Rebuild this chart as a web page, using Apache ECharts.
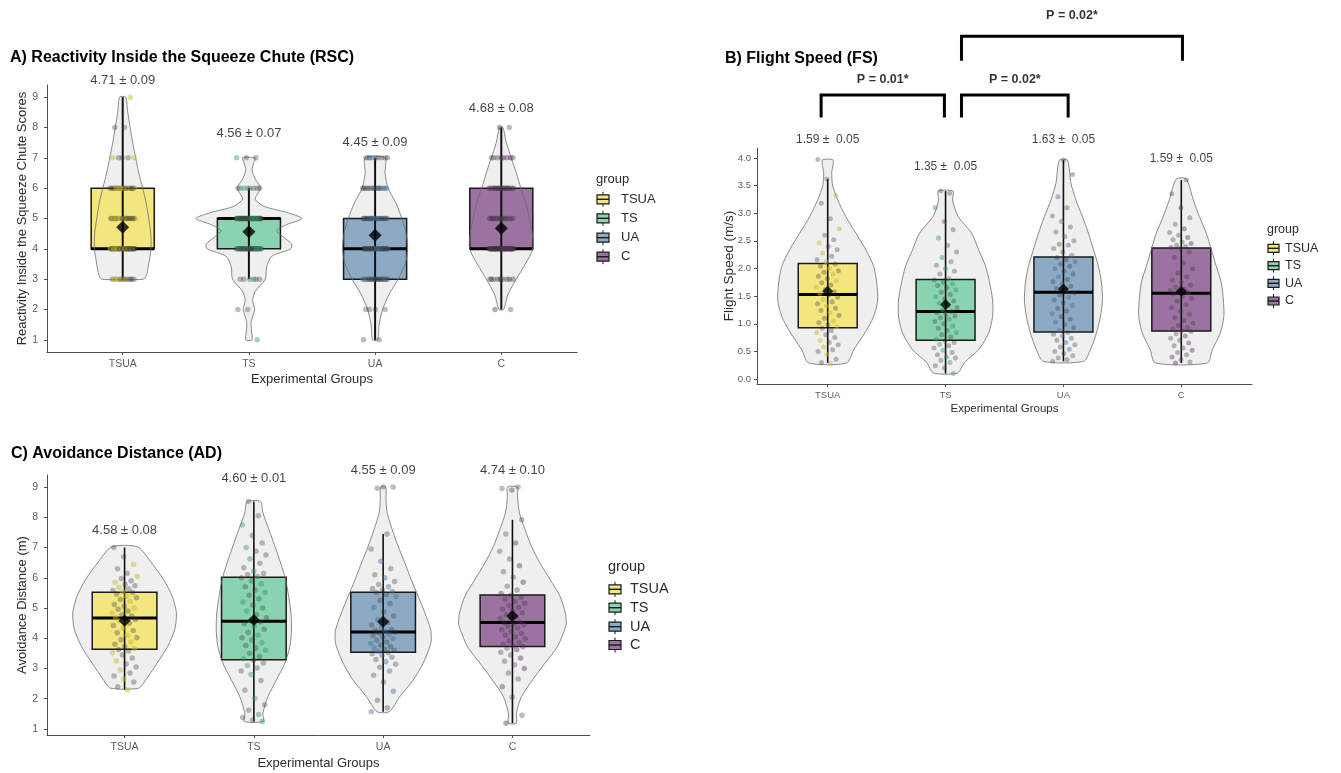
<!DOCTYPE html>
<html>
<head>
<meta charset="utf-8">
<script src="https://cdn.jsdelivr.net/npm/echarts@6/dist/echarts.min.js"></script>
<style>
  html, body { margin: 0; padding: 0; background: #fff; }
  #chart { width: 1341px; height: 773px; }
</style>
</head>
<body>
<div id="chart"></div>
<script>
// ---------- data ----------
const groups = ['TSUA', 'TS', 'UA', 'C'];

// A) Reactivity inside the squeeze chute: animals per score (scores 1..9)
const rscScores = [1, 2, 3, 4, 5, 6, 7, 8, 9];
const rscCountsTSUA = [0, 0, 12, 42, 20, 18, 5, 2, 1];
const rscCountsTS   = [1, 2, 6, 34, 46, 8, 3, 0, 0];
const rscCountsUA   = [2, 4, 20, 28, 22, 15, 9, 0, 0];
const rscCountsC    = [0, 2, 10, 45, 15, 18, 8, 2, 0];
const rscMean = [4.71, 4.56, 4.45, 4.68];
const rscSE   = [0.09, 0.07, 0.09, 0.08];
// [lower whisker, Q1, median, Q3, upper whisker]
const rscBox = [[3, 4, 4, 6, 9], [3, 4, 5, 5, 6], [1, 3, 4, 5, 7], [2, 4, 4, 6, 8]];
// violin density profiles: [score, scaled density]
const rscDensityTSUA = [[3,0.166],[3.15,0.19],[3.5,0.206],[4,0.224],[4.5,0.222],[5,0.206],[5.5,0.186],[6,0.158],[6.5,0.127],[7,0.103],[7.5,0.079],[8,0.059],[8.5,0.04],[9,0.024]];
const rscDensityTS   = [[1,0.025],[1.3,0.02],[1.6,0.018],[2,0.045],[2.3,0.03],[2.6,0.05],[3,0.13],[3.4,0.14],[3.75,0.18],[4,0.33],[4.15,0.34],[4.4,0.27],[4.6,0.22],[4.8,0.3],[5,0.42],[5.2,0.3],[5.4,0.12],[5.65,0.05],[6,0.093],[6.3,0.05],[6.6,0.025],[6.85,0.04],[7,0.05]];
const rscDensityUA   = [[1,0.02],[1.5,0.032],[2,0.059],[2.5,0.111],[3,0.182],[3.5,0.238],[4,0.258],[4.5,0.246],[5,0.212],[5.5,0.166],[6,0.103],[6.5,0.079],[7,0.079]];
const rscDensityC    = [[2,0.018],[2.5,0.053],[3,0.119],[3.5,0.19],[4,0.251],[4.5,0.246],[5,0.222],[5.5,0.196],[6,0.155],[6.5,0.119],[7,0.079],[7.5,0.04],[8,0.013]];

// B) Flight speed (m/s)
const fsTSUA = [0.28,0.30,0.36,0.45,0.50,0.53,0.58,0.62,0.66,0.70,0.75,0.80,0.84,0.88,0.92,
  0.95,0.98,1.02,1.05,1.10,1.15,1.20,1.24,1.28,1.32,1.36,1.40,1.44,1.48,1.52,
  1.55,1.58,1.62,1.66,1.70,1.74,1.78,1.82,1.86,1.90,1.93,1.96,2.00,2.04,2.08,
  2.12,2.16,2.22,2.28,2.34,2.40,2.46,2.52,2.60,2.72,2.90,3.18,3.32,3.62,3.97];
const fsTS = [0.10,0.20,0.24,0.30,0.34,0.38,0.40,0.44,0.48,0.52,0.56,0.60,0.63,0.66,0.69,
  0.72,0.76,0.80,0.84,0.88,0.92,0.96,1.00,1.04,1.08,1.11,1.14,1.17,1.20,1.22,
  1.25,1.29,1.33,1.37,1.41,1.45,1.49,1.53,1.57,1.61,1.65,1.69,1.72,1.75,1.79,
  1.82,1.90,1.95,2.00,2.06,2.12,2.20,2.30,2.42,2.55,2.70,2.85,3.10,3.36,3.40];
const fsUA = [0.32,0.35,0.38,0.42,0.46,0.50,0.54,0.58,0.62,0.66,0.70,0.74,0.78,0.81,0.84,
  0.88,0.93,0.98,1.03,1.08,1.13,1.18,1.23,1.28,1.33,1.38,1.43,1.48,1.52,1.56,
  1.60,1.64,1.68,1.72,1.76,1.80,1.85,1.90,1.95,2.00,2.04,2.08,2.12,2.16,2.20,
  2.24,2.30,2.36,2.42,2.44,2.50,2.58,2.66,2.75,2.85,2.95,3.10,3.30,3.70,3.96];
const fsC = [0.29,0.31,0.35,0.40,0.44,0.48,0.52,0.56,0.60,0.65,0.70,0.74,0.78,0.82,0.86,
  0.88,0.90,0.93,0.97,1.01,1.06,1.11,1.17,1.23,1.29,1.35,1.41,1.46,1.50,1.54,
  1.56,1.58,1.60,1.63,1.66,1.70,1.74,1.79,1.85,1.92,2.00,2.10,2.20,2.30,2.36,
  2.38,2.40,2.42,2.45,2.48,2.52,2.56,2.60,2.65,2.72,2.80,2.92,3.10,3.35,3.60];
const fsMean = [1.59, 1.35, 1.63, 1.59];
const fsSE   = [0.05, 0.05, 0.05, 0.05];
const fsBox = [[0.29,0.93,1.53,2.09,3.62],[0.10,0.70,1.22,1.80,3.40],[0.32,0.85,1.57,2.21,3.96],[0.29,0.87,1.55,2.37,3.60]];
const fsDensityTSUA = [[0.29,0.161],[0.53,0.221],[0.83,0.314],[1.13,0.39],[1.43,0.424],[1.74,0.416],[2.04,0.39],[2.34,0.323],[2.64,0.238],[2.94,0.153],[3.24,0.085],[3.5,0.042],[3.73,0.034],[3.9,0.047],[3.97,0.042]];
const fsDensityTS   = [[0.11,0.102],[0.3,0.161],[0.53,0.28],[0.83,0.365],[1.13,0.399],[1.43,0.399],[1.74,0.374],[2.04,0.34],[2.34,0.28],[2.64,0.221],[2.94,0.106],[3.24,0.059],[3.4,0.064]];
const fsDensityUA   = [[0.32,0.17],[0.53,0.229],[0.83,0.28],[1.13,0.314],[1.43,0.331],[1.74,0.323],[2.04,0.297],[2.34,0.255],[2.64,0.212],[2.94,0.161],[3.24,0.106],[3.54,0.064],[3.96,0.034]];
const fsDensityC    = [[0.29,0.221],[0.53,0.263],[0.83,0.331],[1.13,0.361],[1.43,0.357],[1.74,0.34],[2.04,0.297],[2.34,0.255],[2.64,0.212],[2.94,0.153],[3.24,0.102],[3.62,0.042]];
// pairwise comparisons shown above panel B
const fsPairs  = [['TSUA', 'TS'], ['TS', 'UA'], ['TS', 'C']];
const fsPValue = ['0.01', '0.02', '0.02'];

// C) Avoidance distance (m)
const adTSUA = [2.30,2.40,2.55,2.65,2.75,2.85,2.95,3.05,3.15,3.25,3.35,3.45,3.52,3.58,3.63,
  3.66,3.72,3.80,3.88,3.95,4.02,4.10,4.18,4.26,4.34,4.42,4.50,4.57,4.62,4.66,
  4.68,4.74,4.78,4.84,4.90,4.96,5.00,5.06,5.12,5.22,5.28,5.34,5.40,5.46,5.51,
  5.54,5.58,5.63,5.68,5.74,5.78,5.85,5.90,5.98,6.05,6.15,6.30,6.45,6.70,7.00];
const adTS = [1.25,1.30,1.38,1.48,1.62,1.80,2.01,2.28,2.60,2.80,2.92,3.02,3.10,3.18,3.27,
  3.32,3.40,3.50,3.60,3.68,3.76,3.85,3.94,4.02,4.10,4.20,4.30,4.40,4.48,4.55,
  4.58,4.68,4.78,4.90,5.00,5.10,5.20,5.30,5.42,5.52,5.60,5.70,5.80,5.90,6.00,
  6.04,6.10,6.14,6.22,6.33,6.48,6.62,6.75,6.88,7.00,7.15,7.40,7.75,8.05,8.52];
const adUA = [1.57,1.70,1.95,2.25,2.55,2.78,2.92,3.04,3.14,3.22,3.30,3.37,3.44,3.49,3.53,
  3.56,3.60,3.64,3.68,3.73,3.78,3.83,3.88,3.93,3.98,4.03,4.08,4.13,4.17,4.20,
  4.23,4.26,4.30,4.36,4.44,4.52,4.62,4.74,4.88,5.02,5.15,5.26,5.38,5.45,5.51,
  5.55,5.60,5.64,5.70,5.78,5.88,6.00,6.10,6.30,6.55,6.95,7.45,8.96,9.00,9.00];
const adC = [1.19,1.45,2.05,2.40,2.65,2.85,3.00,3.12,3.24,3.35,3.45,3.54,3.62,3.68,3.72,
  3.75,3.80,3.86,3.92,3.98,4.04,4.10,4.16,4.22,4.28,4.34,4.40,4.45,4.49,4.51,
  4.54,4.60,4.66,4.72,4.78,4.84,4.90,4.96,5.02,5.08,5.15,5.22,5.29,5.36,5.42,
  5.48,5.60,5.72,5.85,6.02,6.20,6.40,6.62,6.88,7.15,7.45,7.92,8.90,8.95,9.00];
const adMean = [4.58, 4.60, 4.55, 4.74];
const adSE   = [0.08, 0.01, 0.09, 0.10];
const adBox = [[2.30,3.64,4.67,5.52,7.00],[1.25,3.29,4.56,6.02,8.52],[1.57,3.54,4.21,5.52,7.45],[1.19,3.73,4.52,5.43,7.92]];
const adDensityTSUA = [[2.35,0.109],[2.62,0.163],[3.18,0.252],[3.73,0.333],[4.28,0.388],[4.84,0.401],[5.39,0.368],[5.94,0.302],[6.49,0.209],[7.02,0.101]];
const adDensityTS   = [[1.25,0.074],[1.52,0.07],[2.07,0.109],[2.62,0.174],[3.18,0.24],[3.73,0.279],[4.28,0.291],[4.84,0.287],[5.39,0.269],[5.94,0.246],[6.49,0.207],[7.04,0.163],[7.6,0.116],[8.15,0.07],[8.52,0.052]];
const adDensityUA   = [[1.57,0.047],[2.07,0.129],[2.62,0.233],[3.18,0.31],[3.73,0.362],[3.95,0.372],[4.28,0.368],[4.84,0.323],[5.39,0.271],[5.94,0.217],[6.49,0.168],[7.04,0.116],[7.6,0.07],[8.15,0.031],[8.6,0.022],[9.0,0.02]];
const adDensityC    = [[1.19,0.031],[1.52,0.031],[2.07,0.07],[2.62,0.155],[3.18,0.252],[3.73,0.349],[4.28,0.403],[4.5,0.416],[4.84,0.409],[5.39,0.368],[5.94,0.291],[6.49,0.213],[7.04,0.147],[7.6,0.097],[8.15,0.054],[8.7,0.039],[9.0,0.039]];

// ---------- styling ----------
const FONT = '"Liberation Sans", Arial, Helvetica, sans-serif';
const boxFill  = ['#F4E67E', '#8AD3AF', '#8DAAC5', '#9B72A0'];
const dotTint  = ['rgba(200,184,40,0.6)', 'rgba(50,150,105,0.55)', 'rgba(70,110,150,0.55)', 'rgba(95,50,105,0.55)'];
const dotGray  = 'rgba(55,55,55,0.42)';
const AXIS_COL = '#4d4d4d';
const TICK_TXT = '#5c5c5c';

// expand per-score counts into individual observations
function expandCounts(counts) {
  const out = [];
  counts.forEach((n, k) => { for (let j = 0; j < n; j++) out.push(rscScores[k]); });
  return out;
}

// horizontal jitter of a point within its group (±0.1 category units)
function jitter(i, g) {
  const u = ((i + 1) * 0.6180339887 + g * 0.2113) % 1;
  return (u - 0.5) * 0.2;
}

const panels = [
  {
    grid: { left: 47, top: 85, width: 530, height: 267 },
    yMin: 0.6, yMax: 9.4, yTicks: [1, 2, 3, 4, 5, 6, 7, 8, 9], yFmt: v => String(v),
    yName: 'Reactivity Inside the Squeeze Chute Scores', yNameGap: 18, yNameSize: 13,
    xNameGap: 21, xNameSize: 13, tickSize: 10.5, yLabelMargin: 9, xLabelMargin: 7,
    values: [expandCounts(rscCountsTSUA), expandCounts(rscCountsTS), expandCounts(rscCountsUA), expandCounts(rscCountsC)],
    density: [rscDensityTSUA, rscDensityTS, rscDensityUA, rscDensityC],
    box: rscBox, mean: rscMean, se: rscSE,
    labelY: [9.56, 7.8, 7.52, 8.62], labelSize: 13, sep: ' ± ',
    diamond: 13, whiskerW: 2, dotSize: 5.5
  },
  {
    grid: { left: 757, top: 148, width: 495, height: 236 },
    yMin: -0.09, yMax: 4.18, yTicks: [0, 0.5, 1, 1.5, 2, 2.5, 3, 3.5, 4], yFmt: v => v.toFixed(1),
    yName: 'Flight Speed (m/s)', yNameGap: 21, yNameSize: 13.5,
    xNameGap: 19, xNameSize: 11.5, tickSize: 9.5, yLabelMargin: 6, xLabelMargin: 6,
    values: [fsTSUA, fsTS, fsUA, fsC],
    density: [fsDensityTSUA, fsDensityTS, fsDensityUA, fsDensityC],
    box: fsBox, mean: fsMean, se: fsSE,
    labelY: [4.33, 3.85, 4.33, 3.98], labelSize: 12, sep: ' ±  ',
    diamond: 11, whiskerW: 1.6, dotSize: 5
  },
  {
    grid: { left: 47, top: 475, width: 543, height: 260 },
    yMin: 0.8, yMax: 9.4, yTicks: [1, 2, 3, 4, 5, 6, 7, 8, 9], yFmt: v => String(v),
    yName: 'Avoidance Distance (m)', yNameGap: 18, yNameSize: 13,
    xNameGap: 22, xNameSize: 13, tickSize: 10.5, yLabelMargin: 9, xLabelMargin: 7,
    values: [adTSUA, adTS, adUA, adC],
    density: [adDensityTSUA, adDensityTS, adDensityUA, adDensityC],
    box: adBox, mean: adMean, se: adSE,
    labelY: [7.58, 9.3, 9.56, 9.56], labelSize: 13, sep: ' ± ',
    diamond: 12, whiskerW: 1.6, dotSize: 5.5
  }
];

const grids = [], xAxes = [], yAxes = [], series = [];

panels.forEach((P, p) => {
  grids.push(Object.assign({ outerBoundsMode: 'none', containLabel: false }, P.grid));

  xAxes.push({
    type: 'value', gridIndex: p, min: 0.4, max: 4.6,
    axisLine: { show: true, onZero: false, lineStyle: { color: AXIS_COL, width: 1 } },
    axisTick: { show: true, customValues: [1, 2, 3, 4], length: 3, lineStyle: { color: AXIS_COL } },
    axisLabel: { customValues: [1, 2, 3, 4], formatter: v => groups[Math.round(v) - 1],
      color: TICK_TXT, fontSize: P.tickSize, fontFamily: FONT, margin: P.xLabelMargin },
    splitLine: { show: false },
    name: 'Experimental Groups', nameLocation: 'middle', nameGap: P.xNameGap, nameMoveOverlap: false,
    nameTextStyle: { fontSize: P.xNameSize, color: '#2b2b2b', fontFamily: FONT }
  });

  yAxes.push({
    type: 'value', gridIndex: p, min: P.yMin, max: P.yMax,
    axisLine: { show: true, onZero: false, lineStyle: { color: AXIS_COL, width: 1 } },
    axisTick: { show: true, customValues: P.yTicks, length: 3, lineStyle: { color: AXIS_COL } },
    axisLabel: { customValues: P.yTicks, formatter: P.yFmt, color: TICK_TXT,
      fontSize: P.tickSize, fontFamily: FONT, margin: P.yLabelMargin },
    splitLine: { show: false },
    name: P.yName, nameLocation: 'middle', nameGap: P.yNameGap, nameMoveOverlap: false,
    nameTextStyle: { fontSize: P.yNameSize, color: '#2b2b2b', fontFamily: FONT }
  });

  const anchor = groups.map((g, i) => [i + 1, P.box[i][2]]);
  const axisRef = { xAxisIndex: p, yAxisIndex: p };

  function violinPoints(api, i) {
    const cx = i + 1, prof = P.density[i];
    const left = prof.map(([v, d]) => api.coord([cx - d, v]));
    const right = prof.slice().reverse().map(([v, d]) => api.coord([cx + d, v]));
    return left.concat(right);
  }

  // violin body
  series.push(Object.assign({
    type: 'custom', z: 1, silent: true, data: anchor, encode: { x: 0, y: 1 },
    renderItem: (params, api) => ({
      type: 'polygon', shape: { points: violinPoints(api, params.dataIndex), smooth: 0.25 },
      style: { fill: '#EFEFEF', stroke: null }
    })
  }, axisRef));

  // boxes with medians
  series.push(Object.assign({
    type: 'custom', z: 2, silent: true, data: anchor, encode: { x: 0, y: 1 },
    renderItem: (params, api) => {
      const i = params.dataIndex, b = P.box[i], cx = i + 1, hw = 0.25;
      const tl = api.coord([cx - hw, b[3]]), br = api.coord([cx + hw, b[1]]);
      const ml = api.coord([cx - hw, b[2]]), mr = api.coord([cx + hw, b[2]]);
      return { type: 'group', children: [
        { type: 'rect', shape: { x: tl[0], y: tl[1], width: br[0] - tl[0], height: br[1] - tl[1] },
          style: { fill: boxFill[i], stroke: '#1a1a1a', lineWidth: 1.5 } },
        { type: 'line', shape: { x1: ml[0], y1: ml[1], x2: mr[0], y2: mr[1] },
          style: { stroke: '#000', lineWidth: 3 } }
      ] };
    }
  }, axisRef));

  // violin outline
  series.push(Object.assign({
    type: 'custom', z: 3, silent: true, data: anchor, encode: { x: 0, y: 1 },
    renderItem: (params, api) => ({
      type: 'polygon', shape: { points: violinPoints(api, params.dataIndex), smooth: 0.25 },
      style: { fill: null, stroke: '#6e6e6e', lineWidth: 0.8 }
    })
  }, axisRef));

  // whisker range
  series.push(Object.assign({
    type: 'custom', z: 4, silent: true, data: anchor, encode: { x: 0, y: 1 },
    renderItem: (params, api) => {
      const i = params.dataIndex, b = P.box[i];
      const lo = api.coord([i + 1, b[0]]), hi = api.coord([i + 1, b[4]]);
      return { type: 'line', shape: { x1: lo[0], y1: lo[1], x2: hi[0], y2: hi[1] },
        style: { stroke: '#111', lineWidth: P.whiskerW } };
    }
  }, axisRef));

  // jittered observations
  const pts = [];
  P.values.forEach((vals, g) => {
    vals.forEach((v, i) => {
      pts.push({ value: [g + 1 + jitter(i, g), v],
        itemStyle: { color: i % 3 === 0 ? dotTint[g] : dotGray } });
    });
  });
  series.push(Object.assign({
    type: 'scatter', z: 5, silent: true, symbol: 'circle', symbolSize: P.dotSize,
    data: pts, clip: false
  }, axisRef));

  // group means
  series.push(Object.assign({
    type: 'scatter', z: 6, silent: true, symbol: 'diamond', symbolSize: P.diamond,
    itemStyle: { color: '#000' },
    data: P.mean.map((m, i) => [i + 1, m]), clip: false
  }, axisRef));

  // mean ± SE labels
  series.push(Object.assign({
    type: 'scatter', z: 7, silent: true, symbolSize: 0, clip: false,
    data: P.labelY.map((y, i) => [i + 1, y]),
    label: { show: true, position: 'inside', color: '#111', fontSize: P.labelSize, fontFamily: FONT,
      formatter: prm => P.mean[prm.dataIndex].toFixed(2) + P.sep + P.se[prm.dataIndex].toFixed(2) }
  }, axisRef));
});

// significance brackets for flight speed
const bracketSpan = [[0.944, 1.99, 5.14, 4.73], [2.135, 3.04, 5.14, 4.73], [2.135, 4.01, 6.20, 5.76]];
const bracketLabelY = [5.41, 5.41, 6.57];
series.push({
  type: 'custom', xAxisIndex: 1, yAxisIndex: 1, z: 8, silent: true, clip: false,
  data: fsPairs.map(pr => [groups.indexOf(pr[0]) + 1, groups.indexOf(pr[1]) + 1]),
  encode: { x: [0, 1] },
  renderItem: (params, api) => {
    const [x1, x2, yt, yl] = bracketSpan[params.dataIndex];
    const pts = [api.coord([x1, yl]), api.coord([x1, yt]), api.coord([x2, yt]), api.coord([x2, yl])];
    return { type: 'polyline', shape: { points: pts },
      style: { stroke: '#000', lineWidth: 3, fill: null, lineJoin: 'miter' } };
  }
});
series.push({
  type: 'scatter', xAxisIndex: 1, yAxisIndex: 1, z: 8, silent: true, symbolSize: 0, clip: false,
  data: bracketSpan.map((s, k) => [(s[0] + s[1]) / 2, bracketLabelY[k]]),
  label: { show: true, position: 'inside', color: '#000', fontSize: 12.5, fontWeight: 'bold', fontFamily: FONT,
    formatter: prm => 'P = ' + fsPValue[prm.dataIndex] + '*' }
});

// ---------- titles and legends ----------
const graphic = [];
function addText(text, x, y, size, weight, color) {
  graphic.push({ type: 'text', x: x, y: y, silent: true,
    style: { text: text, fontSize: size, fontWeight: weight || 'normal', fontFamily: FONT,
      fill: color || '#000', align: 'left', verticalAlign: 'middle' } });
}
addText('A) Reactivity Inside the Squeeze Chute (RSC)', 10, 57.5, 16, 'bold');
addText('B) Flight Speed (FS)', 725, 58.5, 16, 'bold');
addText('C) Avoidance Distance (AD)', 11, 454, 16, 'bold');

function addLegend(x, titleY, rowY, textX, size, kw, kh) {
  addText('group', x, titleY, size, 'normal', '#2b2b2b');
  groups.forEach((g, i) => {
    const cy = rowY[i], cx = x + 1 + kw / 2;
    graphic.push({ type: 'line', silent: true,
      shape: { x1: cx, y1: cy - kh / 2 - 3, x2: cx, y2: cy + kh / 2 + 3 },
      style: { stroke: '#1a1a1a', lineWidth: 1 } });
    graphic.push({ type: 'rect', silent: true,
      shape: { x: x + 1, y: cy - kh / 2, width: kw, height: kh },
      style: { fill: boxFill[i], stroke: '#1a1a1a', lineWidth: 1.2 } });
    graphic.push({ type: 'line', silent: true,
      shape: { x1: x + 1, y1: cy, x2: x + 1 + kw, y2: cy },
      style: { stroke: '#1a1a1a', lineWidth: 1.4 } });
    addText(g, textX, cy, size, 'normal', '#2b2b2b');
  });
}
addLegend(596, 179, [199.3, 218.3, 237.7, 256.7], 621, 13, 12, 9);
addLegend(1267, 230, [248.3, 265.7, 283.3, 301], 1285, 12.5, 11, 8);
addLegend(608, 566.7, [589.3, 607.7, 626.7, 645], 630, 14.5, 12, 9);

const chart = echarts.init(document.getElementById('chart'), null, { renderer: 'canvas' });
chart.setOption({
  animation: false,
  backgroundColor: '#ffffff',
  grid: grids,
  xAxis: xAxes,
  yAxis: yAxes,
  series: series,
  graphic: graphic
});
</script>
</body>
</html>
